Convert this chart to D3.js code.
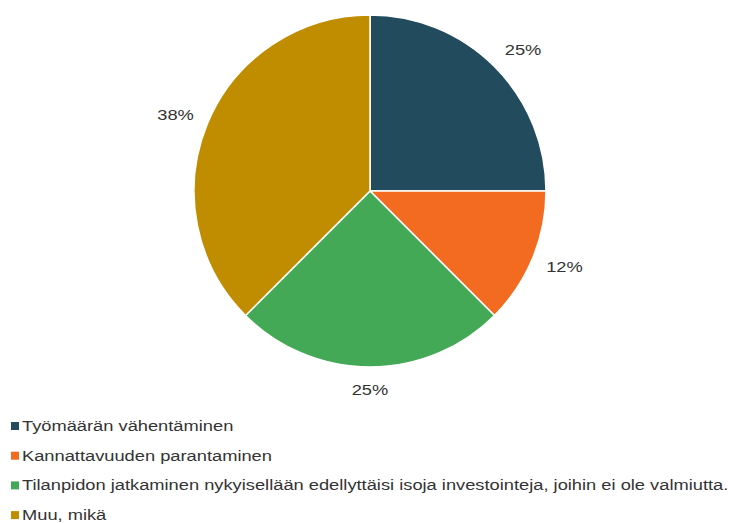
<!DOCTYPE html>
<html><head><meta charset="utf-8">
<script src="https://cdn.jsdelivr.net/npm/d3@7"></script>
<style>body{margin:0;background:#fff}svg{display:block}</style>
</head><body>
<svg id="c" width="737" height="523"></svg>
<script>
const categories = ["Työmäärän vähentäminen","Kannattavuuden parantaminen","Tilanpidon jatkaminen nykyisellään edellyttäisi isoja investointeja, joihin ei ole valmiutta.","Muu, mikä"];
const values = [2,1,2,3];
const labels = ["25%","12%","25%","38%"];
const colors = ["#234b5e","#f26b21","#43a956","#c18d00"];

const svg = d3.select("#c");
const cx = 370, cy = 191, r = 176;
const pie = d3.pie().sort(null).value(d=>d)(values);
const arc = d3.arc().innerRadius(0).outerRadius(r);
const g = svg.append("g").attr("transform",`translate(${cx},${cy})`);
g.selectAll("path").data(pie).join("path")
  .attr("d",arc).attr("fill",(d,i)=>colors[i])
  .attr("stroke","#fff").attr("stroke-width",1.5);

const R = 191, w = 36, h = 16, sx = 1.18;
const clamp = v=>Math.max(-1,Math.min(1,v));
g.selectAll("g.lab").data(pie).join("g").attr("class","lab")
  .each(function(d,i){
    const a=(d.startAngle+d.endAngle)/2;
    const s=Math.sin(a), c=Math.cos(a);
    const x=R*s + w/2*clamp(s*2.5);
    const y=-R*c - h/2*clamp(c);
    d3.select(this).attr("transform",`translate(${x},${y}) scale(${sx},1)`)
      .append("text").attr("text-anchor","middle").attr("dominant-baseline","central")
      .attr("font-family","Liberation Sans, Arial, sans-serif").attr("font-size",15.5).attr("fill","#333")
      .text(labels[i]);
  });

const leg = svg.append("g");
const rows = leg.selectAll("g").data(categories).join("g")
  .attr("transform",(d,i)=>`translate(11,${426+i*29.7})`);
rows.append("rect").attr("x",0).attr("y",-4).attr("width",8).attr("height",8).attr("fill",(d,i)=>colors[i]);
rows.append("text").attr("transform","translate(11,0) scale(1.18,1)").attr("dominant-baseline","central")
  .attr("font-family","Liberation Sans, Arial, sans-serif").attr("font-size",15.5).attr("fill","#333")
  .text(d=>d);
</script>
</body></html>
